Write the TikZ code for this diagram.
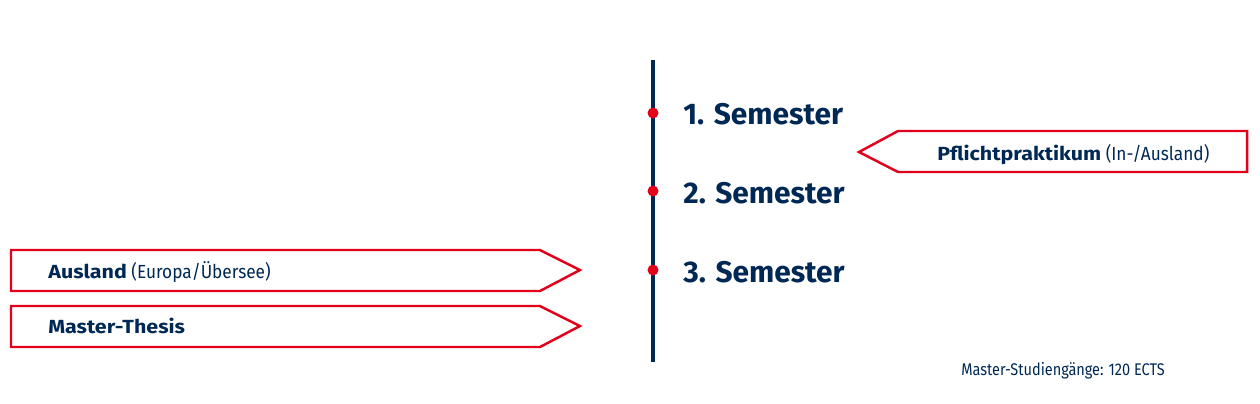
\documentclass[tikz,border=0pt]{standalone}
\usepackage{fontspec}
\setmainfont{Fira Sans}
\newfontfamily\narrowfont{Fira Sans}[FakeStretch=0.86]
\newfontfamily\tagfont{Fira Sans}[UprightFeatures={FakeStretch=0.91}, BoldFeatures={FakeStretch=1.13}]
\usetikzlibrary{positioning}
\definecolor{hsnavy}{RGB}{0,40,85}
\definecolor{hsred}{RGB}{226,0,26}

\begin{document}
\begin{tikzpicture}[
  x=0.02cm, y=-0.02cm,
  every node/.style = {text=hsnavy, inner sep=0pt, anchor=base west},
  semester/.style = {font=\fontsize{17}{20}\selectfont\bfseries},
  tagtext/.style = {font=\tagfont\fontsize{10.8}{13}\selectfont},
  dot/.style = {circle, fill=hsred, minimum size=0.22cm, anchor=center},
  tag/.style = {draw=hsred, line width=1.4pt, line join=miter}
    ]
  \useasboundingbox (0,0) rectangle (1260,403);
  % time axis
  \coordinate (top) at (653,60);
  \coordinate (bottom) at (653,362);
  \draw[hsnavy, line width=2.3pt] (top) -- (bottom);
  \node[dot] (d1) at (653,113) {};
  \node[dot] (d2) at (653,191) {};
  \node[dot] (d3) at (653,270) {};
  \node[semester] (sem1) at (683,124) {1. Semester};
  \node[semester] (sem2) at (683,203) {2. Semester};
  \node[semester] (sem3) at (683,282) {3. Semester};
  % tags
  \draw[tag] (1247,131) -- (898,131) -- (859,152) -- (898,172) -- (1247,172) -- cycle;
  \node[tagtext] (praktikum) at (937,160) {\textbf{Pflichtpraktikum} (In-/Ausland)};
  \draw[tag] (11,250) -- (540,250) -- (580,270) -- (540,291) -- (11,291) -- cycle;
  \node[tagtext] (ausland) at (48,278) {\textbf{Ausland} (Europa/Übersee)};
  \draw[tag] (11,306) -- (540,306) -- (580,326) -- (540,347) -- (11,347) -- cycle;
  \node[tagtext] (thesis) at (48,333) {\textbf{Master-Thesis}};
  \node[font=\narrowfont\fontsize{9.6}{11}\selectfont] (ects) at (961,375) {Master-Studiengänge: 120 ECTS};
\end{tikzpicture}
\end{document}
